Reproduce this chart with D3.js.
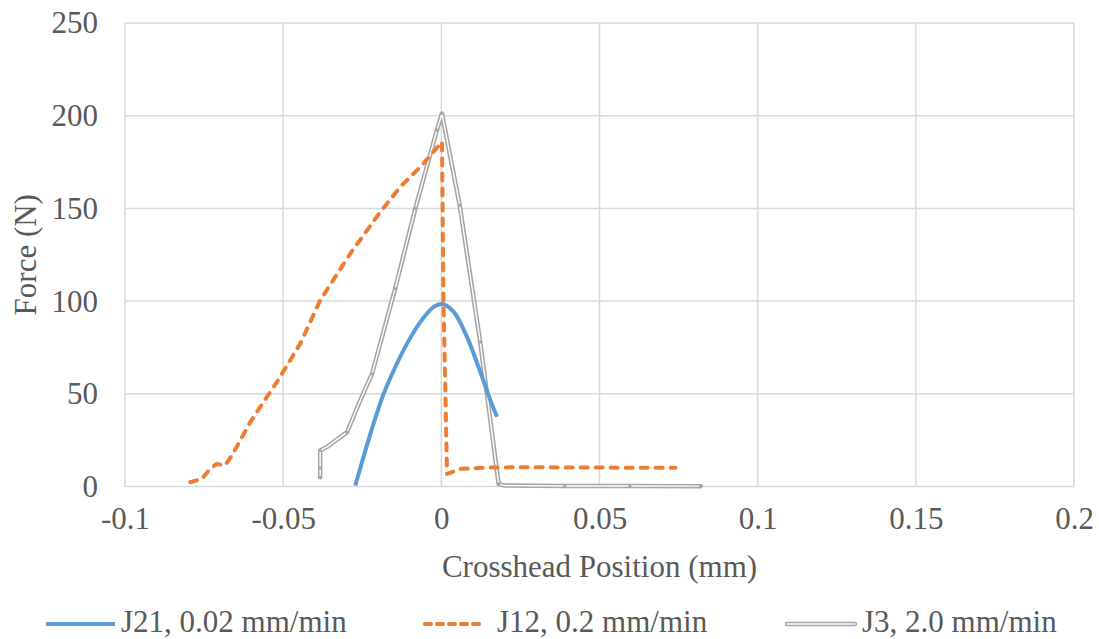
<!DOCTYPE html>
<html>
<head>
<meta charset="utf-8">
<script src="https://cdn.jsdelivr.net/npm/d3@7"></script>
<style>
  html, body { margin: 0; padding: 0; background: #fff; font-family: "Liberation Serif", serif; }
  svg { display: block; }
</style>
</head>
<body>
<svg id="chart" width="1099" height="639" font-family="Liberation Serif, Times New Roman, DejaVu Serif, serif"></svg>
<script>
// ---- data ----
const xTicks = [-0.1, -0.05, 0, 0.05, 0.1, 0.15, 0.2];
const yTicks = [0, 50, 100, 150, 200, 250];
const xTickLabels = ["-0.1", "-0.05", "0", "0.05", "0.1", "0.15", "0.2"];
const yTickLabels = ["0", "50", "100", "150", "200", "250"];

const seriesNames = ["J21, 0.02 mm/min", "J12, 0.2 mm/min", "J3, 2.0 mm/min"];

const j21X = [-0.0272, -0.0246, -0.0214, -0.0182, -0.0145, -0.0108, -0.0066, -0.0024, 0.0002, 0.0039, 0.0081, 0.0123, 0.0155, 0.0176];
const j21Y = [0.5, 16, 34, 50.2, 64.6, 77.2, 88.8, 96.9, 98.4, 94.2, 80.7, 61.9, 46.6, 37.6];

const j12X = [-0.0794, -0.0757, -0.0731, -0.0710, -0.0684, -0.0662, -0.0636, -0.0604, -0.0573, -0.0541, -0.0520, -0.0446, -0.0383, -0.0288, -0.0193, -0.0130, -0.0066, 0.0002, 0.0007, 0.0018, 0.0060, 0.0150, 0.0250, 0.0500, 0.0740];
const j12Y = [2.3, 4.1, 9.5, 12.2, 11.3, 16.7, 24.8, 34.7, 42.8, 50.9, 56.3, 77, 100.4, 125.6, 148.1, 161.6, 172.4, 185.9, 98, 6.8, 9.5, 10.2, 10.4, 10.2, 10.1];

const j3X = [-0.0383, -0.0383, -0.0383, -0.0360, -0.0298, -0.0256, -0.0219, -0.0146, -0.0082, -0.0014, 0.0002, 0.0058, 0.0123, 0.0181, 0.0200, 0.0390, 0.0596, 0.0820];
const j3Y = [5, 10, 19.4, 21.5, 29.3, 46.6, 60.8, 106.7, 150, 192.2, 201.2, 151.7, 77.9, 1.4, 0.5, 0.3, 0.3, 0.2];
const j3Markers = [0, 1, 2, 4, 6, 7, 8, 9, 10, 11, 12, 13, 15, 16, 17];

// ---- layout ----
const FONT = "Liberation Serif, Times New Roman, DejaVu Serif, serif";
const svg = d3.select("#chart");
const pLeft = 125, pRight = 1074, pTop = 23, pBottom = 486.5;
const x = d3.scaleLinear().domain([-0.1, 0.2]).range([pLeft, pRight]);
const y = d3.scaleLinear().domain([0, 250]).range([pBottom, pTop]);

const colors = { blue: "#5b9bd5", orange: "#ed7d31", gray: "#a5a5a5" };

// gridlines
const grid = svg.append("g");
grid.selectAll("line.h").data(yTicks).join("line")
  .attr("x1", pLeft).attr("x2", pRight)
  .attr("y1", d => y(d)).attr("y2", d => y(d))
  .attr("stroke", "#d9d9d9").attr("stroke-width", 1.5);
grid.selectAll("line.v").data(xTicks).join("line")
  .attr("y1", pTop).attr("y2", pBottom)
  .attr("x1", d => x(d)).attr("x2", d => x(d))
  .attr("stroke", "#d9d9d9").attr("stroke-width", 1.5);

// axes (labels only)
const xAxis = d3.axisBottom(x).tickValues(xTicks).tickFormat((d, i) => xTickLabels[i]).tickSize(0).tickPadding(20);
const gx = svg.append("g").attr("transform", `translate(0,${pBottom})`).call(xAxis);
gx.select(".domain").remove();
gx.attr("font-family", FONT).attr("font-size", 31);
gx.selectAll("text").attr("font-family", FONT).attr("font-size", 31).attr("fill", "#595959");

const yAxis = d3.axisLeft(y).tickValues(yTicks).tickFormat((d, i) => yTickLabels[i]).tickSize(0).tickPadding(27);
const gy = svg.append("g").attr("transform", `translate(${pLeft},0)`).call(yAxis);
gy.select(".domain").remove();
gy.attr("font-family", FONT).attr("font-size", 31);
gy.selectAll("text").attr("font-family", FONT).attr("font-size", 31).attr("fill", "#595959");

// axis titles
svg.append("text").attr("x", (pLeft + pRight) / 2).attr("y", 577)
  .attr("text-anchor", "middle").attr("font-family", FONT).attr("font-size", 31).attr("fill", "#595959")
  .text("Crosshead Position (mm)");
svg.append("text").attr("transform", `translate(36,${(pTop + pBottom) / 2}) rotate(-90)`)
  .attr("text-anchor", "middle").attr("font-family", FONT).attr("font-size", 31).attr("fill", "#595959")
  .text("Force (N)");

// lines
const line = d3.line().x(d => x(d[0])).y(d => y(d[1]));
const j21 = j21X.map((v, i) => [v, j21Y[i]]);
const j12 = j12X.map((v, i) => [v, j12Y[i]]);
const j3 = j3X.map((v, i) => [v, j3Y[i]]);

// J3 double line
svg.append("path").datum(j3).attr("d", line.curve(d3.curveLinear))
  .attr("fill", "none").attr("stroke", colors.gray).attr("stroke-width", 4.5).attr("stroke-linejoin", "round").attr("stroke-linecap", "round");
svg.append("path").datum(j3).attr("d", line.curve(d3.curveLinear))
  .attr("fill", "none").attr("stroke", "#fff").attr("stroke-width", 1.4).attr("stroke-linejoin", "round").attr("stroke-linecap", "round");
svg.append("g").selectAll("circle").data(j3Markers.map(i => j3[i])).join("circle")
  .attr("cx", d => x(d[0])).attr("cy", d => y(d[1])).attr("r", 1.6)
  .attr("fill", colors.gray);

// J21 solid blue
svg.append("path").datum(j21).attr("d", d3.line().x(d => x(d[0])).y(d => y(d[1])).curve(d3.curveCatmullRom.alpha(0.5)))
  .attr("fill", "none").attr("stroke", colors.blue).attr("stroke-width", 4).attr("stroke-linejoin", "round");

// J12 dashed orange
svg.append("path").datum(j12).attr("d", d3.line().x(d => x(d[0])).y(d => y(d[1])).curve(d3.curveLinear))
  .attr("fill", "none").attr("stroke", colors.orange).attr("stroke-width", 4)
  .attr("stroke-dasharray", "7,8").attr("stroke-linecap", "round").attr("stroke-linejoin", "round");

// legend
const ly = 624;
const lg = svg.append("g").attr("font-family", FONT).attr("font-size", 31).attr("fill", "#595959");
lg.append("line").attr("x1", 46).attr("x2", 115).attr("y1", ly).attr("y2", ly)
  .attr("stroke", colors.blue).attr("stroke-width", 4);
lg.append("text").attr("x", 121).attr("y", 632).attr("font-family", FONT).text(seriesNames[0]);

lg.append("line").attr("x1", 425).attr("x2", 485).attr("y1", ly).attr("y2", ly)
  .attr("stroke", colors.orange).attr("stroke-width", 4).attr("stroke-dasharray", "6,6").attr("stroke-linecap", "round");
lg.append("text").attr("x", 497).attr("y", 632).attr("font-family", FONT).text(seriesNames[1]);

lg.append("line").attr("x1", 787).attr("x2", 855).attr("y1", ly).attr("y2", ly)
  .attr("stroke", colors.gray).attr("stroke-width", 4.5).attr("stroke-linecap", "round");
lg.append("line").attr("x1", 787).attr("x2", 855).attr("y1", ly).attr("y2", ly)
  .attr("stroke", "#fff").attr("stroke-width", 1.4).attr("stroke-linecap", "round");
lg.append("text").attr("x", 862).attr("y", 632).attr("font-family", FONT).text(seriesNames[2]);
</script>
</body>
</html>
